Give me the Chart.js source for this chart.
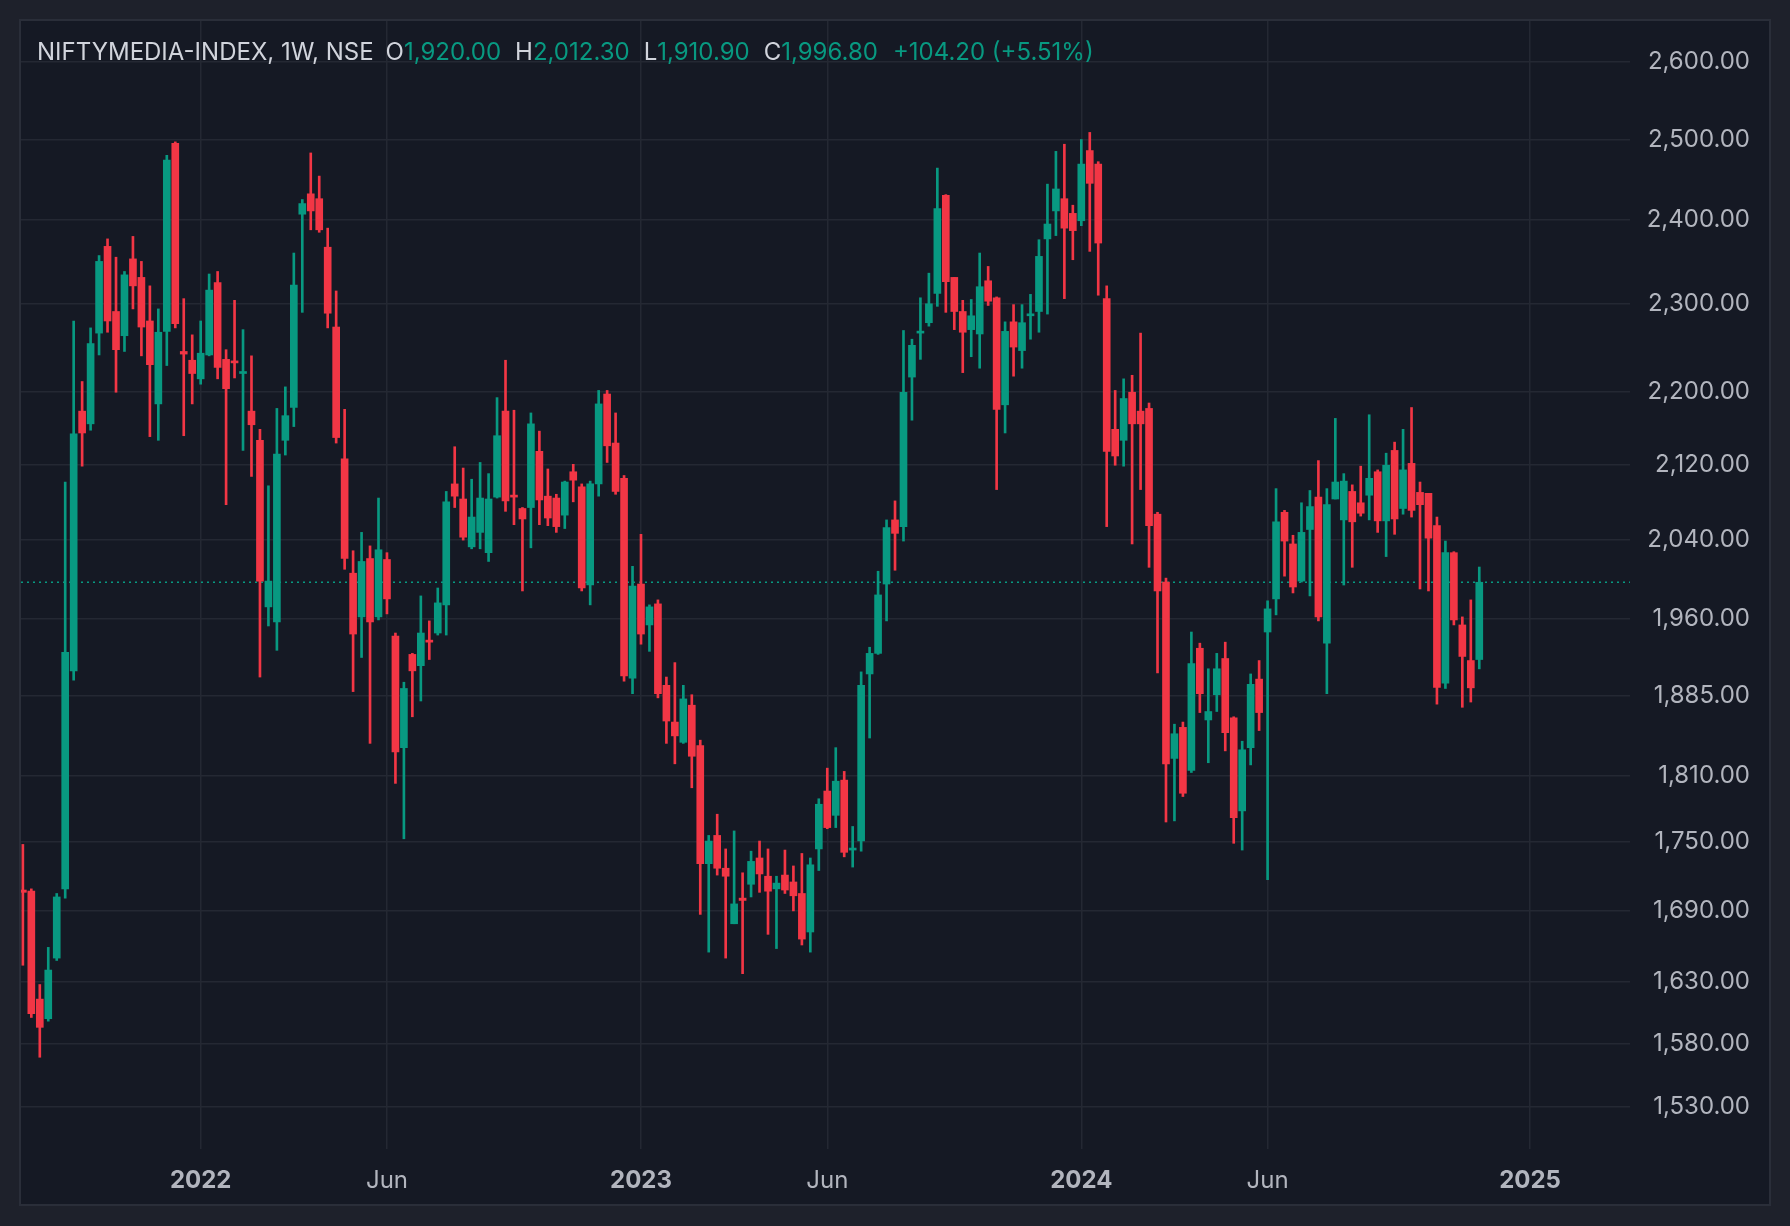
<!DOCTYPE html>
<html>
<head>
<meta charset="utf-8">
<script src="https://cdn.jsdelivr.net/npm/chart.js@4.4.1/dist/chart.umd.min.js"></script>
<style>
    html, body { margin: 0; padding: 0; background: #1e212b; }
    #wrap { position: absolute; left: 0; top: 0; width: 1790px; height: 1226px; }
</style>
</head>
<body>
<div id="wrap"><canvas id="chart"></canvas></div>
<script>
// weekly candles, first week starts Mon 9 Aug 2021
var firstWeek = Date.UTC(2021, 7, 9);

var opens = [1708,1707,1616,1600,1650,1709,1909,2178,2164,2266,
    2368,2291,2263,2353,2331,2280,2186,2268,2495,2245,
    2235,2214,2241,2325,2236,2234,2220,2178,2146,1972,
    1957,2146,2182,2407,2432,2426,2367,2273,2126,2006,
    1962,2021,1962,2020,1943,1836,1925,1914,1939,1946,
    1974,2099,2083,2033,2048,2027,2085,2178,2087,2073,
    2074,2134,2086,2084,2066,2112,2096,1994,2099,2197,
    2143,2105,1902,1995,1954,1975,1895,1860,1841,1876,
    1838,1731,1756,1727,1679,1701,1713,1736,1720,1709,
    1721,1715,1705,1672,1744,1796,1774,1806,1743,1751,
    1906,1926,1995,2061,2054,2216,2266,2278,2312,2430,
    2331,2291,2270,2265,2327,2307,2185,2279,2246,2286,
    2291,2377,2411,2426,2408,2399,2486,2469,2306,2158,
    2146,2199,2178,2181,2067,1997,1826,1855,1815,1931,
    1862,1886,1921,1864,1778,1836,1901,1947,1980,2069,
    2036,1998,2051,2085,1936,2083,2061,2091,2079,2087,
    2112,2060,2135,2073,2121,2090,2089,2055,1897,2027,
    1954,1919,1920];

var highs = [1748,1709,1628,1659,1705,2101,2280,2211,2272,2357,
    2377,2355,2338,2380,2350,2321,2294,2480,2497,2306,
    2264,2280,2335,2338,2247,2304,2270,2240,2158,2097,
    2181,2205,2360,2425,2483,2454,2390,2315,2180,2029,
    2048,2034,2084,2027,1946,1898,1926,1983,1958,1991,
    2091,2139,2116,2104,2122,2110,2193,2235,2179,2074,
    2176,2156,2115,2088,2102,2120,2099,2102,2201,2201,
    2176,2108,2013,2046,1974,1979,1903,1917,1895,1886,
    1843,1756,1775,1744,1760,1723,1742,1751,1744,1720,
    1743,1729,1740,1736,1789,1817,1836,1814,1764,1908,
    1932,2008,2061,2081,2269,2259,2307,2336,2464,2431,
    2331,2304,2305,2360,2344,2308,2279,2299,2299,2311,
    2376,2444,2485,2494,2418,2500,2509,2472,2321,2201,
    2214,2218,2266,2187,2069,2001,1858,1860,1947,1936,
    1911,1926,1937,1865,1842,1906,1919,1978,2094,2071,
    2045,2079,2092,2124,2094,2170,2110,2098,2118,2174,
    2114,2132,2144,2158,2182,2101,2089,2064,2039,2028,
    1962,1979,2012.3];

var lows = [1644,1601,1569,1598,1648,1701,1900,2118,2157,2241,
    2267,2199,2245,2294,2240,2150,2146,2229,2272,2151,
    2186,2208,2240,2214,2077,2215,2135,2107,1903,1953,
    1929,2130,2161,2290,2388,2385,2272,2143,2010,1889,
    1922,1840,1959,1965,1803,1753,1865,1880,1920,1944,
    1944,2074,2040,2031,2031,2018,2084,2070,2056,1988,
    2032,2056,2055,2048,2052,2080,1988,1974,2086,2122,
    2088,1899,1887,1935,1928,1883,1840,1821,1840,1799,
    1687,1655,1721,1650,1679,1637,1702,1706,1670,1658,
    1705,1690,1661,1655,1725,1762,1763,1737,1728,1742,
    1845,1925,1958,2009,2039,2168,2236,2274,2297,2290,
    2270,2221,2239,2226,2298,2093,2154,2217,2226,2259,
    2267,2288,2381,2306,2352,2393,2362,2310,2054,2119,
    2118,2036,2093,2012,1907,1768,1769,1791,1813,1869,
    1822,1870,1833,1749,1743,1820,1852,1717,1964,2003,
    1986,1997,1983,1958,1887,2083,1994,2012,2065,2061,
    2048,2023,2046,2067,2064,1990,1988,1877,1892,1954,
    1874,1879,1910.9];

var closes = [1706,1604,1593,1640,1702,1927,2153,2154,2254,2350,
    2280,2247,2334,2321,2273,2230,2267,2474,2277,2242,
    2220,2243,2316,2227,2203,2232,2222,2163,1998,1998,
    2131,2173,2322,2420,2411,2388,2289,2149,2021,1945,
    2018,1957,2030,1980,1832,1892,1909,1946,1937,1976,
    2080,2086,2043,2064,2084,2083,2151,2081,2085,2062,
    2164,2082,2063,2054,2101,2103,1991,2099,2186,2140,
    2091,1904,1993,1945,1972,1887,1861,1847,1882,1828,
    1731,1751,1727,1720,1696,1699,1733,1722,1707,1714,
    1708,1703,1666,1730,1784,1763,1805,1741,1744,1895,
    1926,1984,2053,2047,2199,2252,2268,2300,2414,2326,
    2291,2267,2286,2320,2303,2180,2268,2250,2278,2287,
    2356,2395,2438,2390,2387,2469,2445,2372,2134,2129,
    2192,2164,2164,2055,1988,1821,1849,1794,1916,1887,
    1870,1911,1850,1772,1834,1896,1869,1970,2059,2039,
    1992,2048,2075,1962,2077,2101,2102,2059,2068,2105,
    2060,2119,2062,2114,2071,2077,2042,1893,2027,1959,
    1923,1892.6,1996.8];

var priceTicks = [2600,2500,2400,2300,2200,2120,2040,1960,1885,1810,1750,1690,1630,1580,1530];
var monthNames = ["Jan","Feb","Mar","Apr","May","Jun","Jul","Aug","Sep","Oct","Nov","Dec"];
var labelMonths = [0, 5];   // year start and June get a label

var upColor = "#089981";
var downColor = "#f23645";
var textColor = "#b2b5be";
var gridColor = "#242833";

// week slots up to the right edge of the plot, first week of Jan / Jun gets a tick
var timeTicks = [];
var timeLabels = {};
var yearSlots = {};
for (var w = 0; w < 190; w++) {
    var d = new Date(firstWeek + w * 7 * 86400000);
    var prev = new Date(firstWeek + (w - 1) * 7 * 86400000);
    if (d.getUTCMonth() != prev.getUTCMonth() && labelMonths.indexOf(d.getUTCMonth()) >= 0) {
        timeTicks.push(w);
        if (d.getUTCMonth() == 0) {
            timeLabels[w] = String(d.getUTCFullYear());
            yearSlots[w] = true;
        } else {
            timeLabels[w] = monthNames[d.getUTCMonth()];
        }
    }
}

function isUp(i) {
    return closes[i] >= opens[i];
}

function money(v) {
    return v.toLocaleString("en-US", { minimumFractionDigits: 2, maximumFractionDigits: 2 });
}

var wicks = closes.map(function (c, i) { return { x: i, y: [lows[i], highs[i]] }; });
var bodies = closes.map(function (c, i) { return { x: i, y: [opens[i], c] }; });

var panelPlugin = {
    id: "panel",
    beforeDraw: function (chart) {
        var ctx = chart.ctx;
        ctx.save();
        ctx.fillStyle = "#1e212b";
        ctx.fillRect(0, 0, chart.width, chart.height);
        ctx.fillStyle = "#151924";
        ctx.fillRect(20, 20, 1750, 1185);
        ctx.strokeStyle = "#2a2e39";
        ctx.lineWidth = 2;
        ctx.strokeRect(20, 20, 1750, 1185);
        ctx.restore();
    }
};

var lastPricePlugin = {
    id: "lastPrice",
    beforeDatasetsDraw: function (chart) {
        var ctx = chart.ctx;
        var area = chart.chartArea;
        var y = chart.scales.y.getPixelForValue(closes[closes.length - 1]);
        ctx.save();
        ctx.strokeStyle = upColor;
        ctx.lineWidth = 1.5;
        ctx.setLineDash([2, 4]);
        ctx.beginPath();
        ctx.moveTo(area.left, y);
        ctx.lineTo(area.right, y);
        ctx.stroke();
        ctx.restore();
    }
};

var legendPlugin = {
    id: "ohlcLegend",
    afterDraw: function (chart) {
        var n = closes.length - 1;
        var change = closes[n] - closes[n - 1];
        var pct = change / closes[n - 1] * 100;
        var last = isUp(n) ? upColor : downColor;
        var parts = [
            ["NIFTYMEDIA-INDEX, 1W, NSE", "#d1d4dc", 12],
            ["O", "#d1d4dc", 0], [money(opens[n]), last, 14],
            ["H", "#d1d4dc", 0], [money(highs[n]), last, 14],
            ["L", "#d1d4dc", 0], [money(lows[n]), last, 14],
            ["C", "#d1d4dc", 0], [money(closes[n]), last, 15],
            [(change >= 0 ? "+" : "") + money(change) + " (" + (pct >= 0 ? "+" : "") + pct.toFixed(2) + "%)", last, 0]
        ];
        var ctx = chart.ctx;
        ctx.save();
        ctx.font = "24px Inter";
        ctx.textBaseline = "alphabetic";
        var x = 37;
        parts.forEach(function (p) {
            ctx.fillStyle = p[1];
            ctx.fillText(p[0], x, 60);
            x += ctx.measureText(p[0]).width + p[2];
        });
        ctx.restore();
    }
};

new Chart("chart", {
    type: "bar",
    data: {
        datasets: [{
            data: wicks,
            barThickness: 2,
            backgroundColor: function (c) { return isUp(c.dataIndex) ? upColor : downColor; },
            borderWidth: 0,
            grouped: false,
            order: 2
        }, {
            data: bodies,
            barThickness: 7,
            minBarLength: 2,
            backgroundColor: function (c) { return isUp(c.dataIndex) ? upColor : downColor; },
            borderWidth: 0,
            grouped: false,
            order: 1
        }]
    },
    options: {
        responsive: true,
        maintainAspectRatio: false,
        animation: false,
        layout: { padding: { left: 21, top: 21, right: 40, bottom: 21 } },
        plugins: {
            legend: { display: false },
            tooltip: { enabled: false }
        },
        scales: {
            x: {
                type: "linear",
                position: "bottom",
                min: -0.22,
                max: 189.8,
                bounds: "data",
                offset: false,
                grid: { color: gridColor, lineWidth: 1.5, drawTicks: false, offset: false },
                border: { display: false },
                afterBuildTicks: function (scale) {
                    scale.ticks = timeTicks.map(function (v) { return { value: v }; });
                },
                afterFit: function (scale) {
                    scale.height = 56;
                    scale.paddingLeft = 0;
                    scale.paddingRight = 0;
                },
                ticks: {
                    autoSkip: false,
                    maxRotation: 0,
                    padding: 17,
                    color: textColor,
                    font: function (c) {
                        var year = c.tick && yearSlots[c.tick.value];
                        return { family: "Inter", size: 24, weight: year ? "bold" : "normal" };
                    },
                    callback: function (v) { return timeLabels[v] || ""; }
                }
            },
            y: {
                type: "logarithmic",
                position: "right",
                min: 1497.6,
                max: 2655,
                bounds: "data",
                beginAtZero: false,
                grid: { color: gridColor, lineWidth: 1.5, drawTicks: false },
                border: { display: false },
                afterBuildTicks: function (scale) {
                    scale.ticks = priceTicks.map(function (v) { return { value: v }; });
                },
                afterFit: function (scale) {
                    scale.width = 120;
                    scale.paddingTop = 0;
                    scale.paddingBottom = 0;
                },
                ticks: {
                    crossAlign: "far",
                    padding: 0,
                    color: textColor,
                    font: { family: "Inter", size: 24 },
                    callback: function (v) { return money(v); }
                }
            }
        }
    },
    plugins: [panelPlugin, lastPricePlugin, legendPlugin]
});
</script>
</body>
</html>
